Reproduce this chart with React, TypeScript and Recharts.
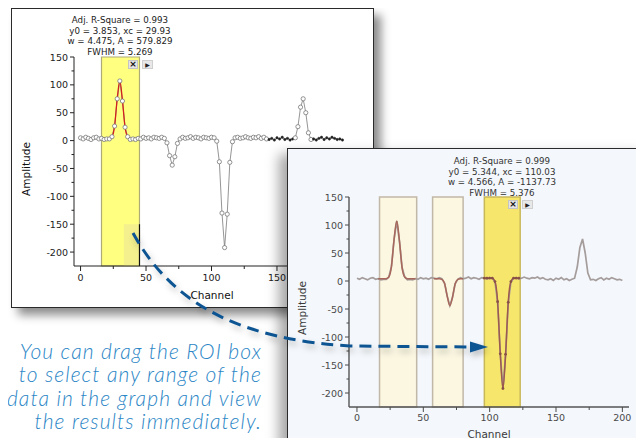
import { ComposedChart, Line, XAxis, YAxis, ReferenceArea, ReferenceLine, Label } from 'recharts'

// measured spectrum, read every second channel
const channels = [
  0, 2, 4, 6, 8, 10, 12, 14, 16, 18, 20, 22, 24, 26, 28, 30, 32, 34, 36, 38, 40, 42, 44, 46, 48, 50,
  52, 54, 56, 58, 60, 62, 64, 66, 68, 70, 72, 74, 76, 78, 80, 82, 84, 86, 88, 90, 92, 94, 96, 98, 100,
  102, 104, 106, 108, 110, 112, 114, 116, 118, 120, 122, 124, 126, 128, 130, 132, 134, 136, 138, 140,
  142, 144, 146, 148, 150, 152, 154, 156, 158, 160, 162, 164, 166, 168, 170, 172, 174, 176, 178, 180,
  182, 184, 186, 188, 190, 192, 194, 196, 198, 200,
]
const amplitude = [
  5, 3, 6, 4, 2, 5, 6, 3, 4, 2, 3, 3, 7,
  26, 75, 107, 71, 24, 7,
  2, 3, 2, 4, 3, 6, 4, 5, 3, 6, 5, 4, 6, 4,
  -4, -27, -44, -29, -5, 3,
  6, 4, 5, 7, 4, 6, 5, 3, 6, 5, 4, 6, 5,
  -1, -38, -130, -192, -132, -39, -2,
  5, 6, 4, 5, 7, 5, 4, 6, 5, 7, 4, 6, 3, 2, 4, 1, 5, 3, 6, 2, 4, 1, 3,
  5, 25, 60, 75, 50, 14, 2,
  3, 1, 4, 6, 2, 5, 3, 6, 4, 2, 3, 1,
]

// gaussian fits inside the ROI boxes
const fitAChannels = [16, 18, 20, 22, 24, 26, 28, 30, 32, 34, 36, 38, 40, 42, 44]
const fitAValues = [4, 4, 4, 4, 7, 26, 75, 107, 72, 24, 7, 4, 4, 4, 4]
const fitBChannels = [58, 60, 62, 64, 66, 68, 70, 72, 74, 76, 78, 80]
const fitBValues = [4, 4, 4, 3, -4, -27, -44, -29, -5, 3, 4, 4]
const fitCChannels = [96, 98, 100, 102, 104, 106, 108, 110, 112, 114, 116, 118, 120, 122]
const fitCValues = [5, 5, 5, 5, -1, -37, -130, -192, -131, -38, -1, 5, 5, 5]

const leftRoi = [16, 45]
const rightRois = [[17, 45], [57, 80], [96, 123]]

const leftXTicks = [0, 25, 50, 75, 100, 125, 150]
const xTicks = [0, 25, 50, 75, 100, 125, 150, 175, 200]
const yTicks = [-200, -175, -150, -125, -100, -75, -50, -25, 0, 25, 50, 75, 100, 125, 150]

const leftFitText = ['Adj. R-Square = 0.993', 'y0 = 3.853, xc = 29.93', 'w = 4.475, A = 579.829', 'FWHM = 5.269']
const rightFitText = ['Adj. R-Square = 0.999', 'y0 = 5.344, xc = 110.03', 'w = 4.566, A = -1137.73', 'FWHM = 5.376']
const noteLines = ['You can drag the ROI box', 'to select any range of the', 'data in the graph and view', 'the results immediately.']

const rows = channels.map((c, i) => ({ ch: c, amp: amplitude[i] }))
const fitA = fitAChannels.map((c, i) => ({ ch: c, fit: fitAValues[i] }))
const fitB = fitBChannels.map((c, i) => ({ ch: c, fit: fitBValues[i] }))
const fitC = fitCChannels.map((c, i) => ({ ch: c, fit: fitCValues[i] }))

const FONT = '"DejaVu Sans", Verdana, sans-serif'

const makeXTick = (color: string, gap: number) => (p: any) => {
  const v = p.payload.value
  const major = v % 50 === 0
  return (
    <g key={`x${v}`}>
      <line x1={p.x} x2={p.x} y1={p.y} y2={p.y + (major ? 5 : 3)} stroke={color} />
      {major && (
        <text x={p.x} y={p.y + gap} textAnchor="middle" fill={color} fontSize={9.5} fontFamily={FONT}>
          {v}
        </text>
      )}
    </g>
  )
}

const makeYTick = (color: string) => (p: any) => {
  const v = p.payload.value
  const major = v % 50 === 0
  return (
    <g key={`y${v}`}>
      <line x1={p.x - (major ? 4 : 2.5)} x2={p.x} y1={p.y} y2={p.y} stroke={color} />
      {major && (
        <text x={p.x - 6} y={p.y + 3.5} textAnchor="end" fill={color} fontSize={9.5} fontFamily={FONT}>
          {v}
        </text>
      )}
    </g>
  )
}

// eslint-disable-next-line @typescript-eslint/no-explicit-any
const leftDot = (p: any) => {
  const ch = p.payload.ch
  const dark = ch >= 144 && (ch < 164 || ch > 176)
  return (
    <circle
      key={`d${p.index}`}
      cx={p.cx}
      cy={p.cy}
      r={dark ? 1.2 : 2.1}
      fill={dark ? '#222' : '#fff'}
      stroke={dark ? '#222' : '#777'}
      strokeWidth={dark ? 0.5 : 0.8}
    />
  )
}

const FitLabel = ({ lines, cx, top, color }: { lines: string[]; cx: number; top: number; color: string }) => (
  <div
    style={{
      position: 'absolute', left: cx - 80, top, width: 160, textAlign: 'center',
      fontFamily: FONT, fontSize: 8.7, lineHeight: '10.6px', color, whiteSpace: 'nowrap',
    }}
  >
    {lines.map((l) => <div key={l}>{l}</div>)}
  </div>
)

const RoiButtons = ({ left, top }: { left: number; top: number }) => (
  <>
    <div style={{
      position: 'absolute', left, top, width: 10, height: 9, background: '#e4e4e4', border: '1px solid #c4c4c4',
      boxSizing: 'border-box', fontSize: 9, lineHeight: '7px', textAlign: 'center', fontWeight: 'bold', fontFamily: FONT, color: '#111',
    }}>×</div>
    <div style={{
      position: 'absolute', left: left + 14, top, width: 11, height: 9, background: '#e8e8e8', border: '1px solid #cfcfcf',
      boxSizing: 'border-box', fontSize: 6, lineHeight: '7px', textAlign: 'center', fontFamily: FONT, color: '#222',
    }}>▶</div>
  </>
)

const axisTitle = (text: string, x: number, y: number, color: string, rotate = false) => () => (
  <text
    x={x}
    y={y}
    textAnchor="middle"
    dominantBaseline="central"
    fill={color}
    fontSize={10.5}
    fontFamily={FONT}
    transform={rotate ? `rotate(-90, ${x}, ${y})` : undefined}
  >
    {text}
  </text>
)

function LeftWindow() {
  return (
    <div style={{
      position: 'absolute', left: 11, top: 8, width: 363, height: 300, background: '#fff',
      border: '1px solid #2a2a2a', boxSizing: 'border-box', boxShadow: '7px 7px 9px rgba(0,0,0,0.45)', overflow: 'hidden',
    }}>
      <FitLabel lines={leftFitText} cx={108} top={6} color="#222" />
      <ComposedChart width={361} height={298} data={rows} margin={{ top: 48, right: 24, bottom: 0, left: 0 }}>
        <XAxis
          type="number" dataKey="ch" domain={[-5, 205]} ticks={leftXTicks} interval={0} height={41}
          tickSize={0} tickMargin={0} tickLine={false} axisLine={{ stroke: '#222' }} tick={makeXTick('#222', 15)}
        >
          <Label content={axisTitle('Channel', 200, 286, '#111')} />
        </XAxis>
        <YAxis
          type="number" domain={[-225, 150]} ticks={yTicks} interval={0} width={62}
          tickSize={0} tickMargin={0} tickLine={false} axisLine={{ stroke: '#222' }} tick={makeYTick('#222')}
        >
          <Label content={axisTitle('Amplitude', 14, 160, '#111', true)} />
        </YAxis>
        <ReferenceArea x1={leftRoi[0]} x2={leftRoi[1]} fill="#ffff80" fillOpacity={1} stroke="#aeab78" strokeWidth={1.2} />
        <ReferenceArea x1={33} x2={leftRoi[1]} y1={-225} y2={-150} fill="#f4f08e" fillOpacity={1} stroke="none" />
        <ReferenceLine segment={[{ x: leftRoi[1], y: -150 }, { x: leftRoi[1], y: -225 }]} stroke="#111" strokeWidth={1.2} />
        <Line dataKey="amp" stroke="#7a7a7a" strokeWidth={0.8} dot={false} activeDot={false} isAnimationActive={false} />
        <Line data={fitA} dataKey="fit" type="monotone" stroke="#d21f1f" strokeWidth={1.3} dot={false} activeDot={false} isAnimationActive={false} />
        <Line dataKey="amp" stroke="none" dot={leftDot} activeDot={false} isAnimationActive={false} />
      </ComposedChart>
      <RoiButtons left={116} top={51} />
    </div>
  )
}

function RightWindow() {
  return (
    <div style={{
      position: 'absolute', left: 287, top: 148, width: 362, height: 305, background: '#f4f7fb',
      border: '1px solid #2a2a2a', boxSizing: 'border-box', boxShadow: '-8px 6px 12px rgba(0,0,0,0.35)', overflow: 'hidden',
    }}>
      <FitLabel lines={rightFitText} cx={214} top={7} color="#333" />
      <ComposedChart width={356} height={297} data={rows} margin={{ top: 48, right: 15, bottom: 0, left: 0 }}>
        <XAxis
          type="number" dataKey="ch" domain={[-6, 205]} ticks={xTicks} interval={0} height={39}
          tickSize={0} tickMargin={0} tickLine={false} axisLine={{ stroke: '#555', strokeWidth: 1.4 }} tick={makeXTick('#4a4a4a', 14)}
        >
          <Label content={axisTitle('Channel', 201, 285, '#3a3a3a')} />
        </XAxis>
        <YAxis
          type="number" domain={[-225, 150]} ticks={yTicks} interval={0} width={61}
          tickSize={0} tickMargin={0} tickLine={false} axisLine={{ stroke: '#555', strokeWidth: 1.4 }} tick={makeYTick('#4a4a4a')}
        >
          <Label content={axisTitle('Amplitude', 14, 159, '#3a3a3a', true)} />
        </YAxis>
        {rightRois.map((r, i) => (
          <ReferenceArea
            key={i}
            x1={r[0]}
            x2={r[1]}
            fill={i === 2 ? '#f6e76c' : '#fbf7e1'}
            fillOpacity={1}
            stroke={i === 2 ? '#c9b85a' : '#c2b8a8'}
            strokeWidth={1.5}
          />
        ))}
        <Line dataKey="amp" stroke="#a59c9c" strokeWidth={1.7} dot={false} activeDot={false} isAnimationActive={false} />
        <Line data={fitA} dataKey="fit" type="monotone" stroke="#a8675b" strokeWidth={1.5} dot={false} activeDot={false} isAnimationActive={false} />
        <Line data={fitB} dataKey="fit" type="monotone" stroke="#a8675b" strokeWidth={1.5} dot={false} activeDot={false} isAnimationActive={false} />
        <Line data={fitC} dataKey="fit" type="monotone" stroke="#9c5a4e" strokeWidth={1.5} dot={{ r: 1.4, fill: '#8a5046', stroke: 'none' }} activeDot={false} isAnimationActive={false} />
      </ComposedChart>
      <RoiButtons left={220} top={51} />
    </div>
  )
}

export default function App() {
  return (
    <div style={{ position: 'relative', width: 644, height: 446, margin: -8, background: '#fff', overflow: 'hidden' }}>
      <LeftWindow />
      <RightWindow />
      <svg width={644} height={446} style={{ position: 'absolute', left: 0, top: 0, pointerEvents: 'none' }}>
        <defs>
          <filter id="arrowShadow" x="-10%" y="-10%" width="130%" height="140%">
            <feDropShadow dx="2" dy="4" stdDeviation="3" floodColor="#000" floodOpacity="0.25" />
          </filter>
        </defs>
        <g filter="url(#arrowShadow)">
          <path d="M133,233 C175,310 250,340 350,346 L472,347" fill="none" stroke="#0f5592" strokeWidth={3} strokeDasharray="12 7" />
          <polygon points="470,341.5 488,347 470,352.5" fill="#0f5592" />
        </g>
      </svg>
      <div style={{
        position: 'absolute', right: 382, top: 339, textAlign: 'right', whiteSpace: 'nowrap',
        fontFamily: 'Lato, "Open Sans", sans-serif', fontStyle: 'italic', fontWeight: 300,
        fontSize: 21, letterSpacing: 1.1, lineHeight: '23.3px', color: '#2b86c6',
      }}>
        {noteLines.map((l) => <div key={l}>{l}</div>)}
      </div>
    </div>
  )
}
